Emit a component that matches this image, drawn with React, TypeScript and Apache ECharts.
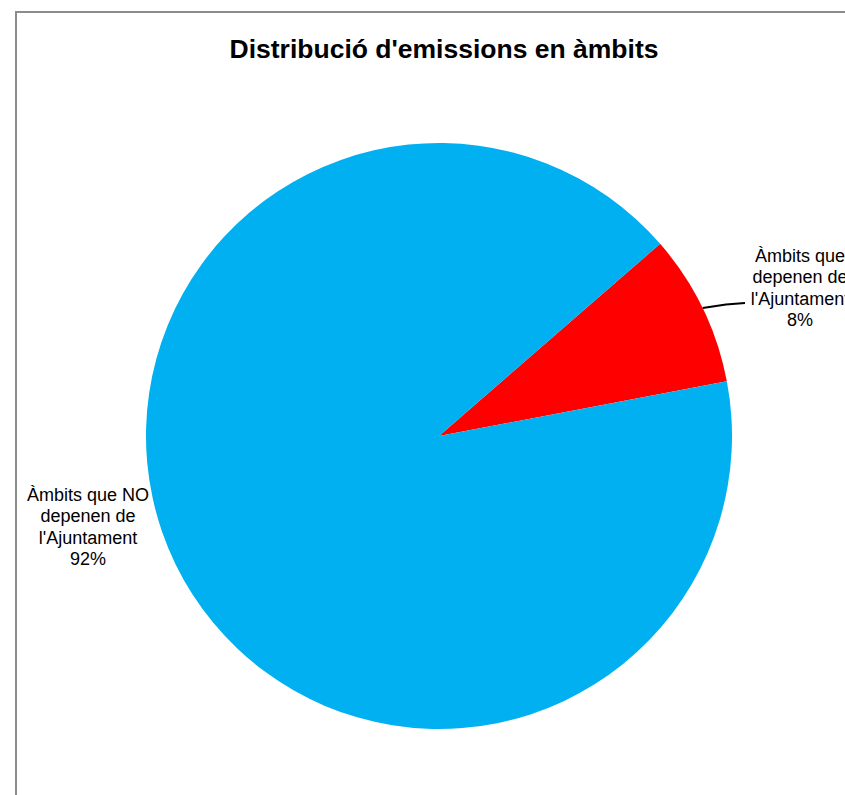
import React, { useEffect, useRef } from "react";
import * as echarts from "echarts";

const TITLE = "Distribució d'emissions en àmbits";
const categories = ["Àmbits que depenen de l'Ajuntament", "Àmbits que NO depenen de l'Ajuntament"];
const labelTexts = ["Àmbits que\ndepenen de\nl'Ajuntament", "Àmbits que NO\ndepenen de\nl'Ajuntament"];
const values = [8.4, 91.6];
const colors = ["#FF0000", "#00B0F0"];

export default function App() {
  const ref = useRef<HTMLDivElement>(null);
  useEffect(() => {
    if (!ref.current) return;
    const chart = echarts.init(ref.current, undefined, { renderer: "svg" });
    const total = values.reduce((a, b) => a + b, 0);
    chart.setOption({
      animation: false,
      backgroundColor: "#ffffff",
      title: {
        text: TITLE,
        left: 439,
        textAlign: "center",
        top: 30,
        textStyle: {
          fontFamily: "Liberation Sans, Arial, sans-serif",
          fontSize: 26.5,
          fontWeight: "bold",
          color: "#000000",
        },
      },
      graphic: [
        {
          type: "rect",
          shape: { x: 16, y: 12, width: 1000, height: 1000 },
          style: { fill: "none", stroke: "#8c8c8c", lineWidth: 2 },
          silent: true,
          z: -1,
        },
      ],
      series: [
        {
          type: "pie",
          center: [439, 436],
          radius: 293,
          startAngle: 41,
          clockwise: true,
          avoidLabelOverlap: false,
          itemStyle: { borderWidth: 0 },
          emphasis: { disabled: true },
          label: {
            show: true,
            position: "outside",
            fontFamily: "Liberation Sans, Arial, sans-serif",
            fontSize: 18,
            lineHeight: 21.5,
            color: "#000000",
            align: "center",
            formatter: (p: any) =>
              labelTexts[p.dataIndex] + "\n" + Math.round((p.value / total) * 100) + "%",
          },
          labelLine: {
            show: true,
            length: 30,
            length2: 10,
            smooth: false,
            lineStyle: { color: "#000000", width: 2 },
          },
          labelLayout: (params: any) => {
            if (params.dataIndex === 0) {
              const pts = params.labelLinePoints;
              const res: any = { x: 800, y: 288, align: "center", verticalAlign: "middle" };
              if (pts && pts[0]) {
                res.labelLinePoints = [pts[0], [726, 304.5], [745, 303]];
              }
              return res;
            }
            return { x: 88, y: 527, align: "center", verticalAlign: "middle" };
          },
          data: categories.map((name, i) => ({
            name,
            value: values[i],
            itemStyle: { color: colors[i] },
            labelLine: { show: i === 0 },
          })),
        },
      ],
    });
    return () => chart.dispose();
  }, []);
  return (
    <div
      ref={ref}
      style={{ position: "fixed", left: 0, top: 0, width: 845, height: 795 }}
    />
  );
}
